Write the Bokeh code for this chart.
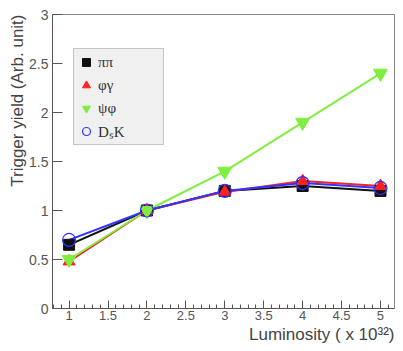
import numpy as np
from bokeh.plotting import figure
from bokeh.models import (Range1d, FixedTicker, NumeralTickFormatter, Legend,
                          LegendItem, Title)
from bokeh.embed import file_html
from bokeh.resources import INLINE

# ---- data ----
luminosity = [1, 2, 3, 4, 5]
pipi = [0.65, 1.0, 1.2, 1.25, 1.2]
phigamma = [0.48, 1.0, 1.19, 1.3, 1.25]
psiphi = [0.5, 1.0, 1.4, 1.9, 2.4]
dsk = [0.7, 1.0, 1.2, 1.28, 1.23]

x_ticks = [1, 1.5, 2, 2.5, 3, 3.5, 4, 4.5, 5]
y_ticks = [0, 0.5, 1, 1.5, 2, 2.5, 3]
x_minor = [round(v, 1) for v in np.arange(0.8, 5.15, 0.1)]

series_labels = ["ππ", "φγ", "ψφ", "DₛK"]
x_title = "Luminosity ( x 10³²)"
y_title = "Trigger yield (Arb. unit)"

FONT = "Liberation Sans"

p = figure(width=395, height=343, output_backend="svg", toolbar_location=None,
           x_range=Range1d(0.787, 5.18), y_range=Range1d(0, 3),
           min_border_left=52, min_border_right=1, min_border_top=14,
           min_border_bottom=30)
p.grid.visible = False
p.outline_line_color = "#888888"
p.background_fill_color = "white"
p.border_fill_color = "white"

for ax in (p.xaxis[0], p.yaxis[0]):
    ax.axis_line_color = "#555555"
    ax.major_tick_line_color = "#555555"
    ax.minor_tick_line_color = "#555555"
    ax.major_label_text_color = "#555555"
    ax.major_label_text_font = FONT
    ax.major_tick_out = 0
    ax.minor_tick_out = 0

p.xaxis.major_label_standoff = 2
p.yaxis.major_label_standoff = 4
p.xaxis.ticker = FixedTicker(ticks=x_ticks, minor_ticks=x_minor)
p.yaxis.ticker = FixedTicker(ticks=y_ticks)
p.xaxis.formatter = NumeralTickFormatter(format="0.[0]")
p.yaxis.formatter = NumeralTickFormatter(format="0.[0]")
p.xaxis.major_tick_in = 8
p.xaxis.minor_tick_in = 4
p.yaxis.major_tick_in = 10
p.yaxis.minor_tick_line_color = None
p.xaxis.major_label_text_font_size = "13px"
p.yaxis.major_label_text_font_size = "14px"

black, red, green, blue = "#111111", "#ff2020", "#80ee40", "#3333ff"

p.line(luminosity, pipi, line_color=black, line_width=2)
p.line(luminosity, phigamma, line_color=red, line_width=2)
p.line(luminosity, psiphi, line_color=green, line_width=2)
p.line(luminosity, dsk, line_color=blue, line_width=2)

r1 = p.scatter(luminosity, pipi, marker="square", size=11, fill_color=black, line_color=black)
r2 = p.scatter(luminosity, phigamma, marker="triangle", size=12, fill_color=red, line_color=red)
r3 = p.scatter(luminosity, psiphi, marker="inverted_triangle", size=14, fill_color=green, line_color=green)
r4 = p.scatter(luminosity, dsk, marker="circle", size=13, fill_color=None, line_color=blue, line_width=1.2)

legend = Legend(items=[LegendItem(label=series_labels[0], renderers=[r1]),
                       LegendItem(label=series_labels[1], renderers=[r2]),
                       LegendItem(label=series_labels[2], renderers=[r3]),
                       LegendItem(label=series_labels[3], renderers=[r4])],
                location=(21, 163), background_fill_color="#f0f0f0",
                background_fill_alpha=1.0, border_line_color="#999999",
                label_text_font="Liberation Serif", label_text_font_size="15px",
                label_text_color="#333333",
                glyph_width=20, glyph_height=22, label_height=22, spacing=1,
                padding=2, margin=0, label_width=63, label_standoff=2)
p.add_layout(legend, "center")

p.add_layout(Title(text=x_title, align="right", text_font=FONT,
                   text_font_size="17px", text_font_style="normal",
                   text_color="#444444", standoff=0, offset=0), "below")
p.add_layout(Title(text=y_title, align="right", text_font=FONT,
                   text_font_size="17px", text_font_style="normal",
                   text_color="#444444", standoff=0, offset=0), "left")

open("out.html", "w").write(file_html(p, INLINE))
